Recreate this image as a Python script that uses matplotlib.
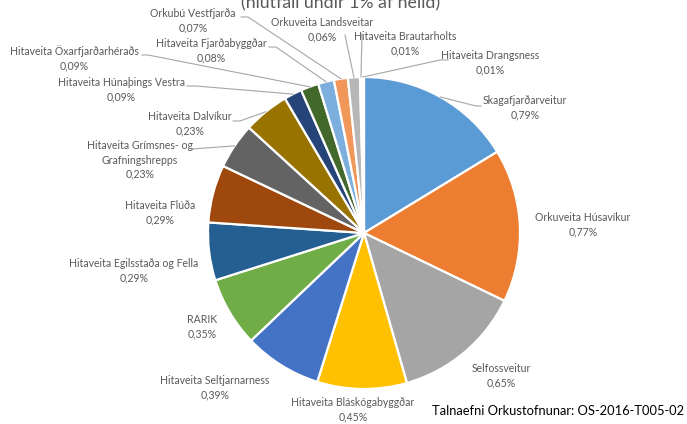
import numpy as np
import matplotlib
matplotlib.use("Agg")
import matplotlib.pyplot as plt

plt.rcParams['font.family'] = ['Lato', 'DejaVu Sans']

# gögn (hlutfall af heild, %)
names = ["Skagafjarðarveitur", "Orkuveita Húsavíkur", "Selfossveitur",
         "Hitaveita Bláskógabyggðar", "Hitaveita Seltjarnarness", "RARIK",
         "Hitaveita Egilsstaða og Fella", "Hitaveita Flúða",
         "Hitaveita Grímsnes- og\nGrafningshrepps", "Hitaveita Dalvíkur",
         "Hitaveita Húnaþings Vestra", "Hitaveita Öxarfjarðarhéraðs",
         "Hitaveita Fjarðabyggðar", "Orkubú Vestfjarða", "Orkuveita Landsveitar",
         "Hitaveita Brautarholts", "Hitaveita Drangsness"]
values = [0.79, 0.77, 0.65, 0.45, 0.39, 0.35, 0.29, 0.29, 0.23, 0.23,
          0.09, 0.09, 0.08, 0.07, 0.06, 0.01, 0.01]
colors = ["#5B9BD5", "#ED7D31", "#A5A5A5", "#FFC000", "#4472C4", "#70AD47",
          "#255E91", "#9E480E", "#636363", "#997300", "#264478", "#43682B",
          "#7CAFDD", "#F1975A", "#B7B7B7", "#FFCD33", "#698ED0"]

# staðsetning merkinga (miðja textablokkar, pixlar frá efra vinstra horni)
label_pos = [(525, 108), (583, 225), (501, 376), (353, 410), (215, 388),
             (202, 327), (134, 271), (160, 213), (140, 160), (190, 124),
             (121, 90), (74, 58), (211, 51), (193, 21), (322, 30),
             (405, 44), (490, 63)]
# endi leiðarlínu við merkingu (None = engin lína)
leader_end = [(481, 106), None, None, None, None, None, None, None,
              (192, 149), (233, 121), (187, 86), (142, 55), (269, 47),
              (241, 17), (345, 35), (362, 34), (448, 60)]
leader_elbow = [(476, 106), None, None, None, None, None, None, None,
                None, (240, 121), (196, 86), (148, 55), (276, 47),
                (248, 17), None, None, (440, 60)]

cx, cy, R = 364, 233, 156

fig = plt.figure(figsize=(6.87, 4.24), dpi=100)
ax = fig.add_axes([0, 0, 1, 1])
wedges, _ = ax.pie(values, colors=colors, startangle=-90, counterclock=True,
                   center=(cx, cy), radius=R,
                   wedgeprops=dict(edgecolor="white", linewidth=1.6))
ax.set_xlim(0, 687)
ax.set_ylim(424, 0)
ax.set_aspect("equal")
ax.axis("off")

txt_color = "#595959"
for w, name, v, pos, end, elb in zip(wedges, names, values, label_pos,
                                     leader_end, leader_elbow):
    ax.text(pos[0], pos[1], name + "\n" + f"{v:.2f}%".replace(".", ","),
            ha="center", va="center", fontsize=7.6, color=txt_color,
            linespacing=1.35)
    if end is not None:
        ang = np.deg2rad((w.theta1 + w.theta2) / 2)
        sx = cx + R * np.cos(ang)
        sy = cy + R * np.sin(ang)
        if elb is not None:
            xs, ys = [sx, elb[0], end[0]], [sy, elb[1], end[1]]
        else:
            xs, ys = [sx, end[0]], [sy, end[1]]
        ax.plot(xs, ys, color="#A6A6A6", lw=0.8)

# titillinn er skorinn að ofan eins og í frummyndinni
ax.text(341, 3, "(hlutfall undir 1% af heild)", ha="center", va="center",
        fontsize=12.8, color=txt_color)
ax.text(684, 411, "Talnaefni Orkustofnunar: OS-2016-T005-02", ha="right",
        va="center", fontsize=9.3, color="black")

fig.savefig("out.png", dpi=100)
